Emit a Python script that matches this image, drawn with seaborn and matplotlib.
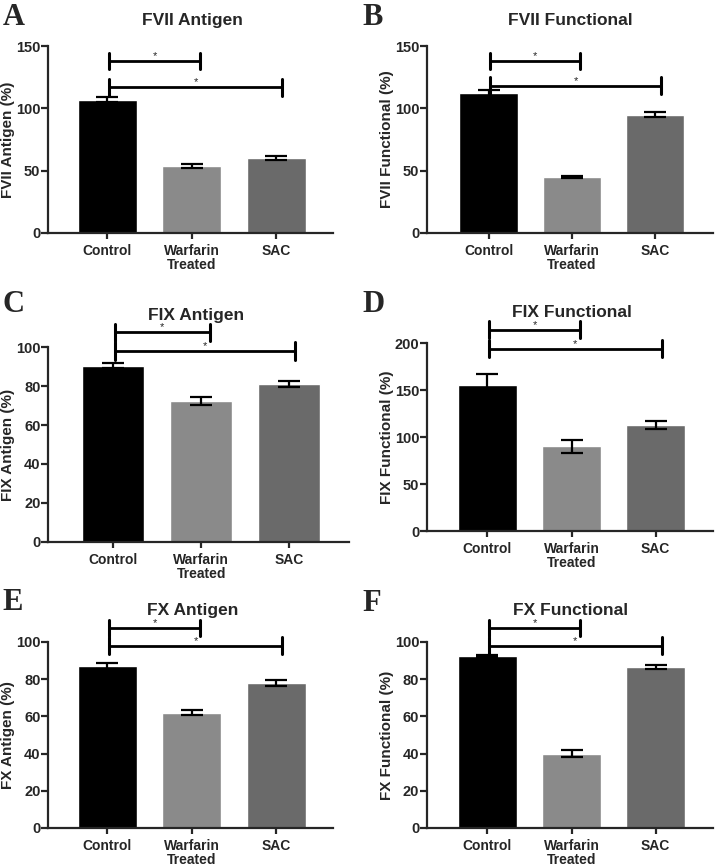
import matplotlib
matplotlib.use("Agg")
import matplotlib.pyplot as plt
import seaborn as sns

sns.set_style("ticks")
plt.rcParams['font.family'] = ['Liberation Sans', 'DejaVu Sans']
plt.rcParams['font.weight'] = 'bold'

groups = ["Control", "Warfarin\nTreated", "SAC"]
bar_colors = ["#000000", "#8a8a8a", "#6a6a6a"]

# mean and SEM (%)
fvii_ag = [107, 54, 60]
fvii_ag_sem = [2, 1.5, 1.5]
fvii_fn = [112, 45, 95]
fvii_fn_sem = [2.5, 1, 2]
fix_ag = [90.5, 72.5, 81]
fix_ag_sem = [1.5, 2, 1.7]
fix_fn = [155, 90, 113]
fix_fn_sem = [12, 7, 4]
fx_ag = [87, 62, 78]
fx_ag_sem = [1.5, 1.5, 1.5]
fx_fn = [92.5, 40, 86.5]
fx_fn_sem = [0.5, 2, 1]

# heights of the significance brackets (Control vs Warfarin, Control vs SAC)
fvii_ag_sig = [138, 117]
fvii_fn_sig = [138, 118]
fix_ag_sig = [107.5, 98]
fix_fn_sig = [214, 194]
fx_ag_sig = [107.5, 98]
fx_fn_sig = [107.5, 98]

panels = [
    dict(letter="A", title="FVII Antigen", ylabel="FVII Antigen (%)", vals=fvii_ag, sem=fvii_ag_sem,
         sig=fvii_ag_sig, ymax=150, step=50, rect=[0.0667, 0.7316, 0.396, 0.2154], xlim=(-0.70, 2.67),
         tpos=(0.267, 0.976), lpos=(0.004, 0.997)),
    dict(letter="B", title="FVII Functional", ylabel="FVII Functional (%)", vals=fvii_fn, sem=fvii_fn_sem,
         sig=fvii_fn_sig, ymax=150, step=50, rect=[0.593, 0.7316, 0.397, 0.2154], xlim=(-0.74, 2.69),
         tpos=(0.792, 0.976), lpos=(0.503, 0.997)),
    dict(letter="C", title="FIX Antigen", ylabel="FIX Antigen (%)", vals=fix_ag, sem=fix_ag_sem,
         sig=fix_ag_sig, ymax=100, step=20, rect=[0.0667, 0.3756, 0.418, 0.2246], xlim=(-0.74, 2.68),
         tpos=(0.273, 0.637), lpos=(0.004, 0.666)),
    dict(letter="D", title="FIX Functional", ylabel="FIX Functional (%)", vals=fix_fn, sem=fix_fn_sem,
         sig=fix_fn_sig, ymax=200, step=50, rect=[0.593, 0.3882, 0.397, 0.2166], xlim=(-0.72, 2.68),
         tpos=(0.794, 0.640), lpos=(0.503, 0.666)),
    dict(letter="E", title="FX Antigen", ylabel="FX Antigen (%)", vals=fx_ag, sem=fx_ag_sem,
         sig=fx_ag_sig, ymax=100, step=20, rect=[0.0667, 0.0461, 0.396, 0.2143], xlim=(-0.70, 2.67),
         tpos=(0.267, 0.297), lpos=(0.004, 0.323)),
    dict(letter="F", title="FX Functional", ylabel="FX Functional (%)", vals=fx_fn, sem=fx_fn_sem,
         sig=fx_fn_sig, ymax=100, step=20, rect=[0.593, 0.0461, 0.397, 0.2143], xlim=(-0.72, 2.68),
         tpos=(0.792, 0.297), lpos=(0.503, 0.321)),
]

W = 720
fig = plt.figure(figsize=(7.2, 8.68), dpi=100)

for p in panels:
    ax = fig.add_axes(p["rect"])
    sns.barplot(x=groups, y=p["vals"], hue=groups, palette=bar_colors, saturation=1,
                width=0.7, errorbar=None, legend=False, ax=ax)
    ax.errorbar(range(3), p["vals"], yerr=p["sem"], fmt="none", ecolor="black",
                elinewidth=1.6, capsize=8, capthick=1.6, zorder=3)
    ax.set_xlim(*p["xlim"])
    ax.set_ylim(0, p["ymax"])
    ax.set_yticks(range(0, p["ymax"] + 1, p["step"]))
    ax.set_ylabel("")
    ax.set_xlabel("")
    # y label placed a fixed 40 px left of the spine
    ax.text(-40 / (p["rect"][2] * W), 0.5, p["ylabel"], transform=ax.transAxes, rotation=90,
            ha="center", va="center", fontsize=11, fontweight="bold")
    sns.despine(ax=ax)
    for s in ["left", "bottom"]:
        ax.spines[s].set_linewidth(1.6)
    ax.tick_params(axis="y", length=5, width=1.6, pad=0.5, labelsize=10.5)
    ax.tick_params(axis="x", length=4, width=1.6, pad=4, labelsize=10)
    for lab in ax.get_xticklabels() + ax.get_yticklabels():
        lab.set_fontweight("bold")
    for lab in ax.get_xticklabels():
        lab.set_linespacing(1.0)

    # significance brackets
    h = 0.045 * p["ymax"]
    for xr, y in zip([1.1, 2.07], p["sig"]):
        ax.plot([0.02, xr], [y, y], color="black", lw=2, clip_on=False)
        ax.plot([0.02, 0.02], [y - h, y + h], color="black", lw=2.2, clip_on=False)
        ax.plot([xr, xr], [y - h, y + h], color="black", lw=2.2, clip_on=False)
        ax.text((0.02 + xr) / 2, y, "*", ha="center", va="bottom",
                fontsize=8, fontweight="normal")

    fig.text(*p["tpos"], p["title"], ha="center", va="center", fontsize=12.5, fontweight="bold")
    fig.text(*p["lpos"], p["letter"], ha="left", va="top", fontsize=22, fontweight="bold",
             family=["Liberation Serif", "DejaVu Serif"])

fig.savefig("out.png", dpi=100)
